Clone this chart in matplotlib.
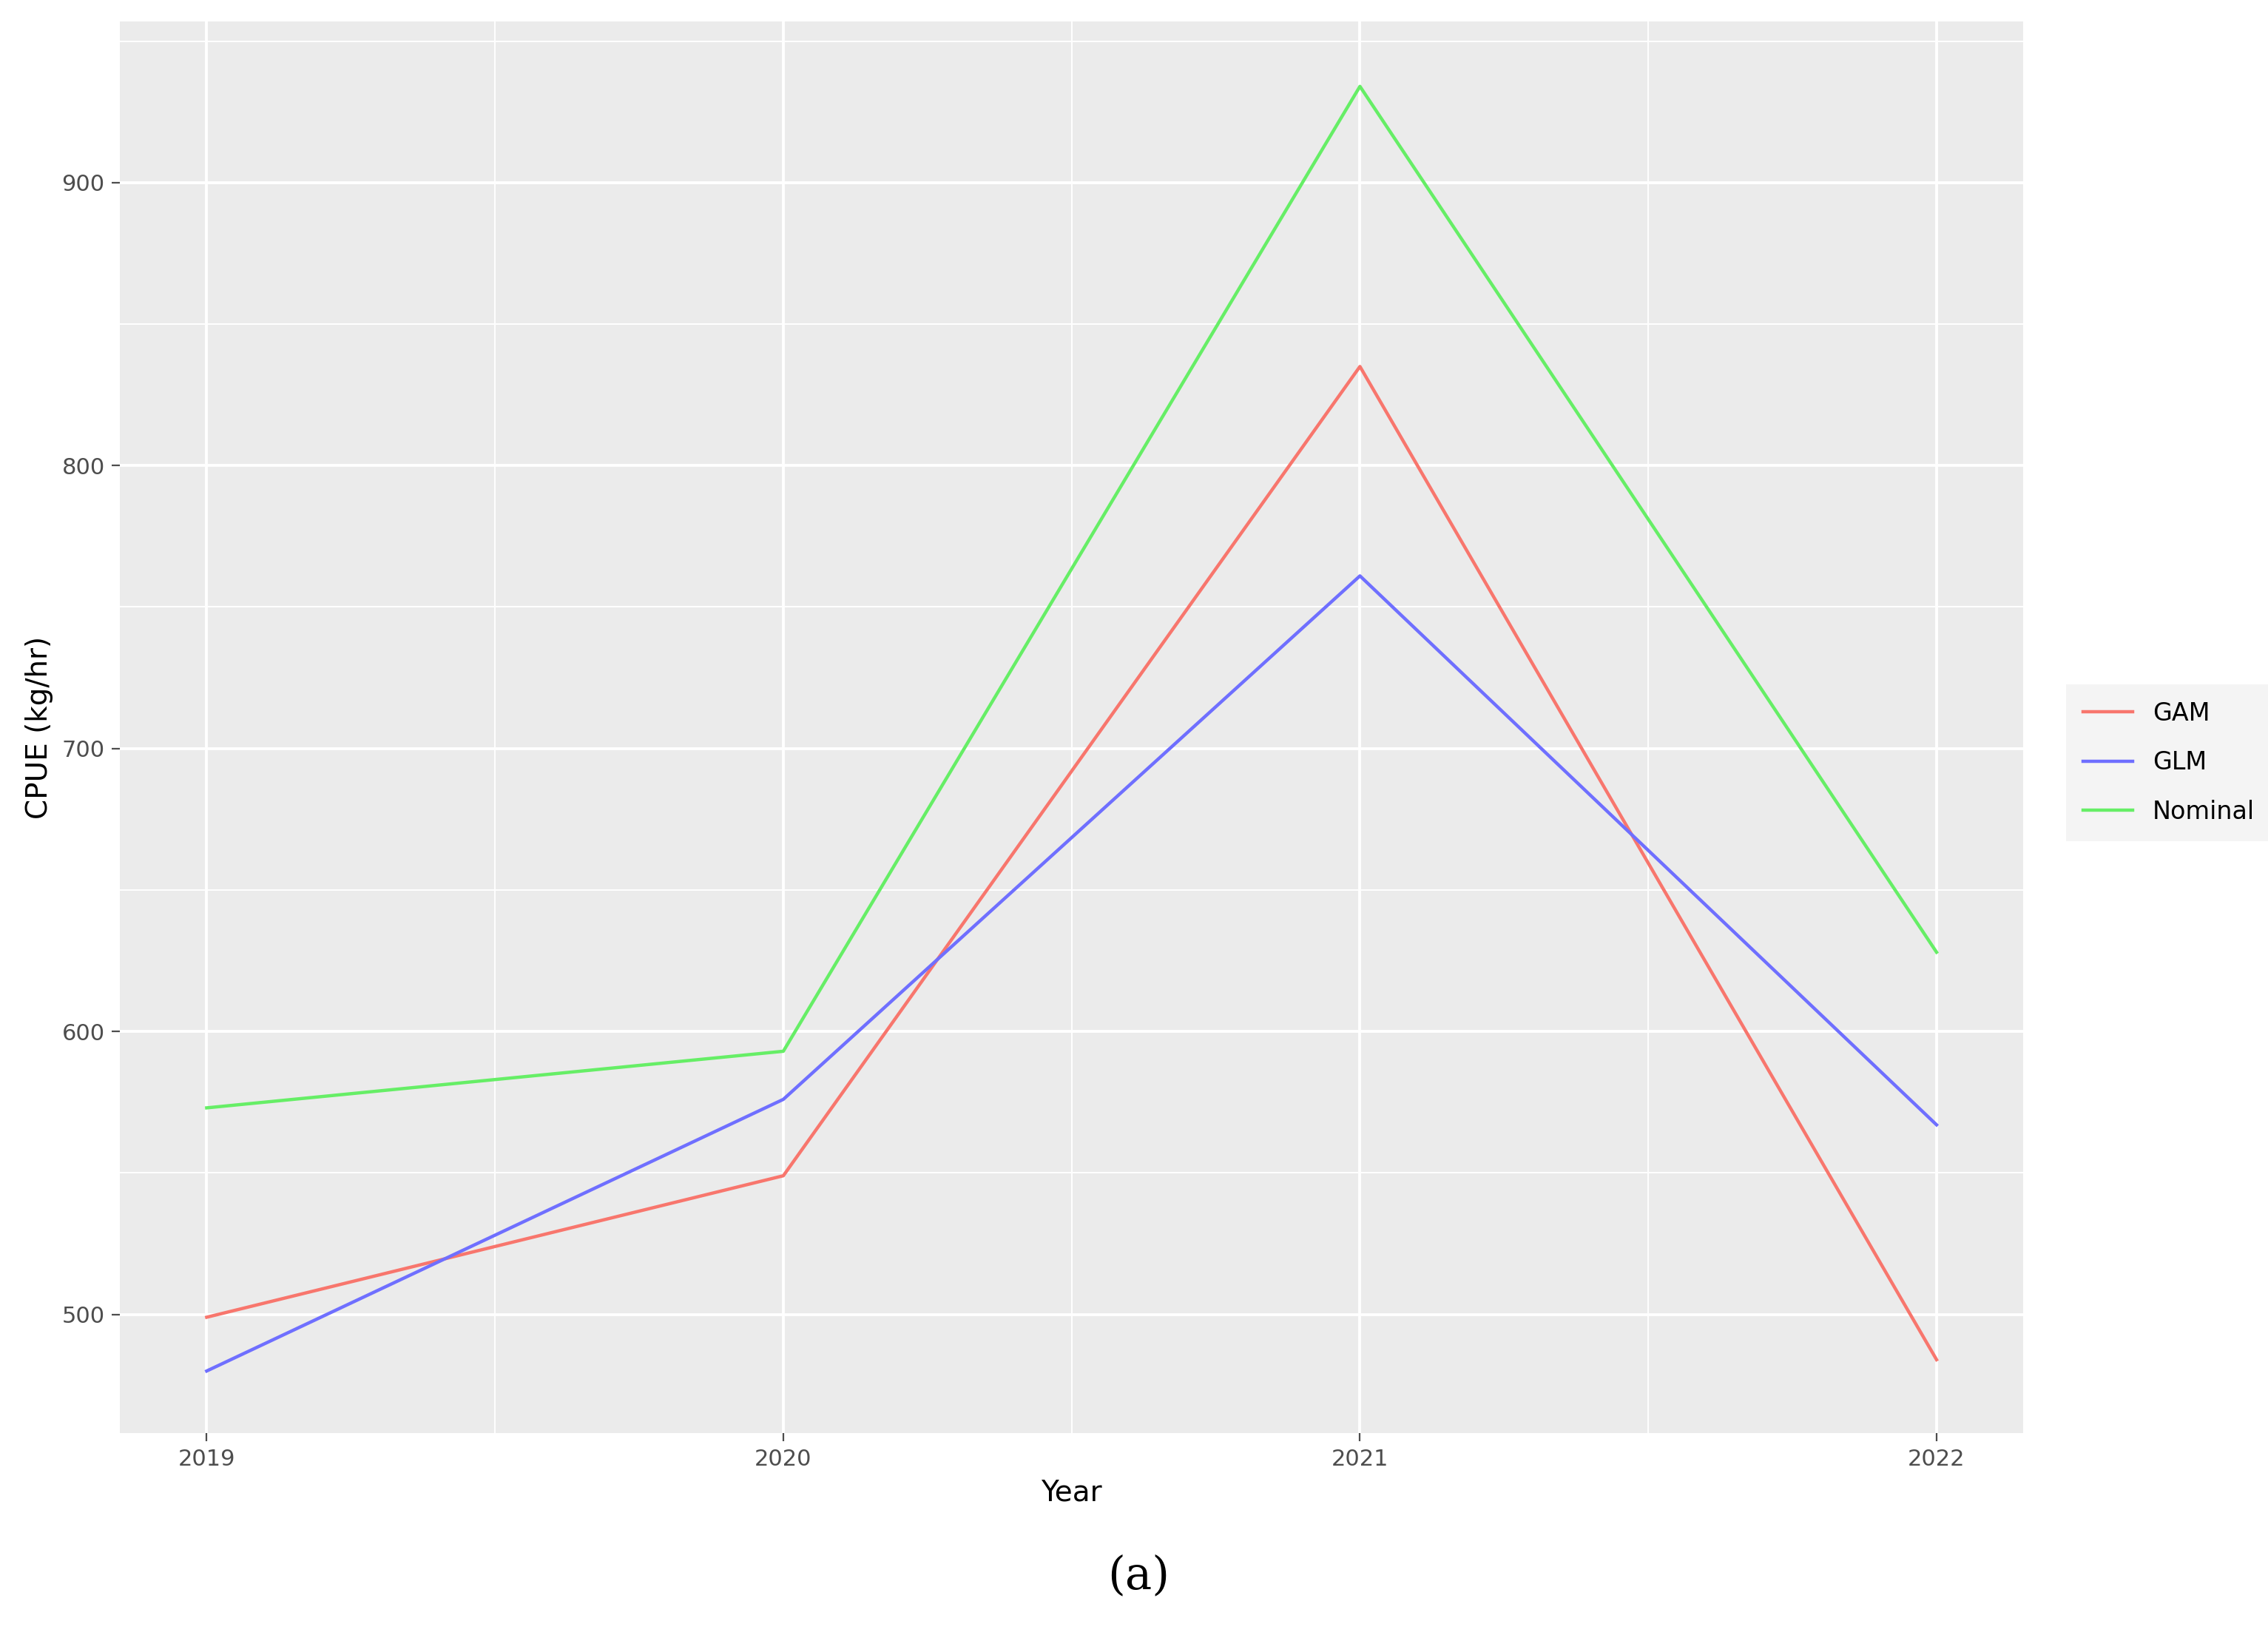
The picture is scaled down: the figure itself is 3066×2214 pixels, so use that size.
import matplotlib.pyplot as plt
from matplotlib.ticker import MultipleLocator

years = [2019, 2020, 2021, 2022]
gam = [499, 549, 835, 484]
glm = [480, 576, 761, 567]
nominal = [573, 593, 934, 628]

fig = plt.figure(figsize=(15.33, 11.07), dpi=200)
ax = fig.add_axes([0.053, 0.125, 0.839, 0.862])
ax.set_facecolor("#EBEBEB")
for s in ax.spines.values():
    s.set_visible(False)

ax.plot(years, gam, color="#F8766D", lw=1.6, label="GAM")
ax.plot(years, glm, color="#6F6FFF", lw=1.6, label="GLM")
ax.plot(years, nominal, color="#66EE66", lw=1.6, label="Nominal")

ax.set_xlim(2018.85, 2022.15)
ax.set_ylim(458, 957)
ax.set_xticks(years)
ax.yaxis.set_major_locator(MultipleLocator(100))
ax.yaxis.set_minor_locator(MultipleLocator(50))
ax.xaxis.set_minor_locator(MultipleLocator(0.5))
ax.grid(which="major", color="white", lw=1.4)
ax.grid(which="minor", color="white", lw=0.7)
ax.set_axisbelow(True)
ax.tick_params(which="major", colors="#4D4D4D", labelsize=11, length=4)
ax.tick_params(which="minor", length=0)
ax.set_xlabel("Year", fontsize=14)
ax.set_ylabel("CPUE (kg/hr)", fontsize=14)

leg = ax.legend(loc="center left", bbox_to_anchor=(1.02, 0.475), frameon=True,
                fontsize=12, handlelength=2, labelspacing=1.0)
leg.get_frame().set_facecolor("#F2F2F2")
leg.get_frame().set_edgecolor("none")
leg.get_frame().set_boxstyle("square")

fig.text(0.502, 0.03, "(a)", ha="center", fontsize=22, family="DejaVu Serif")
fig.savefig("out.png", dpi=200)
